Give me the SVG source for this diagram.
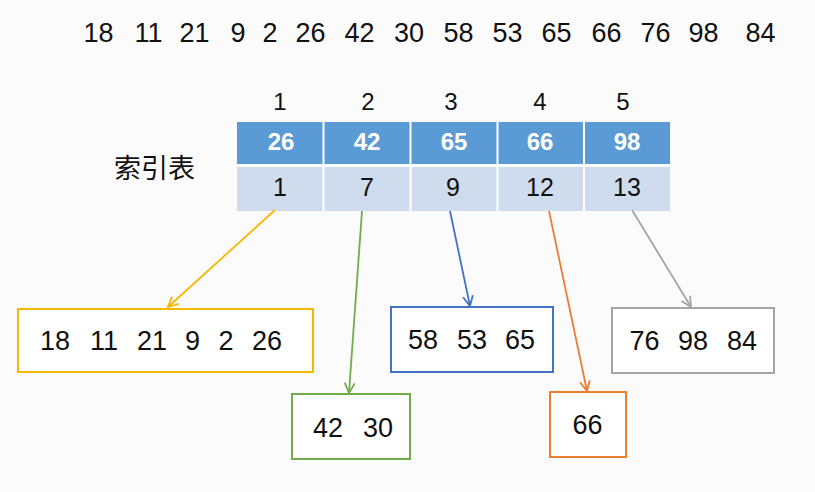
<svg xmlns="http://www.w3.org/2000/svg" width="815" height="492" viewBox="0 0 815 492">
<style>
text{font-family:"Liberation Sans","Noto Sans",sans-serif;fill:#111;text-anchor:middle}
.n{font-size:27px}
.idx{font-size:24px}
.hd{font-size:24px;font-weight:bold;fill:#fff}
.lo{font-size:25px}
.cjk{font-family:"Noto Sans CJK SC",sans-serif;font-size:27px;text-anchor:start}
.box{fill:#fff;stroke-width:2}
.arr{fill:none;stroke-width:1.8}
</style>
<defs>
<marker id="mY" viewBox="0 0 12 12" refX="11" refY="6" markerWidth="12" markerHeight="12" markerUnits="userSpaceOnUse" orient="auto"><path d="M1,1 L11,6 L1,11" fill="none" stroke="#f5b800" stroke-width="1.8"/></marker>
<marker id="mG" viewBox="0 0 12 12" refX="11" refY="6" markerWidth="12" markerHeight="12" markerUnits="userSpaceOnUse" orient="auto"><path d="M1,1 L11,6 L1,11" fill="none" stroke="#70ad47" stroke-width="1.8"/></marker>
<marker id="mB" viewBox="0 0 12 12" refX="11" refY="6" markerWidth="12" markerHeight="12" markerUnits="userSpaceOnUse" orient="auto"><path d="M1,1 L11,6 L1,11" fill="none" stroke="#4472c4" stroke-width="1.8"/></marker>
<marker id="mO" viewBox="0 0 12 12" refX="11" refY="6" markerWidth="12" markerHeight="12" markerUnits="userSpaceOnUse" orient="auto"><path d="M1,1 L11,6 L1,11" fill="none" stroke="#ed7d31" stroke-width="1.8"/></marker>
<marker id="mR" viewBox="0 0 12 12" refX="11" refY="6" markerWidth="12" markerHeight="12" markerUnits="userSpaceOnUse" orient="auto"><path d="M1,1 L11,6 L1,11" fill="none" stroke="#a5a5a5" stroke-width="1.8"/></marker>
</defs>
<rect x="0" y="0" width="815" height="492" fill="#fbfbfb"/>

<g id="sequence">
<text class="n" y="42"><tspan x="98.5">18</tspan><tspan x="148.5">11</tspan><tspan x="194.5">21</tspan><tspan x="238">9</tspan><tspan x="270">2</tspan><tspan x="310.5">26</tspan><tspan x="359.5">42</tspan><tspan x="409">30</tspan><tspan x="458.5">58</tspan><tspan x="507.5">53</tspan><tspan x="556.5">65</tspan><tspan x="606.5">66</tspan><tspan x="655.5">76</tspan><tspan x="703.5">98</tspan><tspan x="760.5">84</tspan></text>
</g>

<g id="index-table">
<text class="cjk" x="114" y="178">索引表</text>
<text class="idx" y="110"><tspan x="280">1</tspan><tspan x="368">2</tspan><tspan x="451">3</tspan><tspan x="540">4</tspan><tspan x="623">5</tspan></text>
<rect x="237" y="122" width="433" height="42" fill="#5b9bd5"/>
<rect x="237" y="167" width="433" height="44" fill="#cfdcee"/>
<g stroke="#fff" stroke-width="2">
<line x1="323.5" y1="122" x2="323.5" y2="211"/>
<line x1="410.5" y1="122" x2="410.5" y2="211"/>
<line x1="497.5" y1="122" x2="497.5" y2="211"/>
<line x1="584" y1="122" x2="584" y2="211"/>
</g>
<text class="hd" y="150"><tspan x="281">26</tspan><tspan x="367">42</tspan><tspan x="454">65</tspan><tspan x="540">66</tspan><tspan x="627">98</tspan></text>
<text class="lo" y="196"><tspan x="280">1</tspan><tspan x="367">7</tspan><tspan x="453">9</tspan><tspan x="540">12</tspan><tspan x="627">13</tspan></text>
</g>

<g id="connectors">
<line class="arr" x1="275" y1="210" x2="168" y2="307" stroke="#f5b800" marker-end="url(#mY)"/>
<line class="arr" x1="362" y1="211" x2="349" y2="393" stroke="#70ad47" marker-end="url(#mG)"/>
<line class="arr" x1="450" y1="211" x2="470" y2="306" stroke="#4472c4" marker-end="url(#mB)"/>
<line class="arr" x1="549" y1="211" x2="587" y2="391" stroke="#ed7d31" marker-end="url(#mO)"/>
<line class="arr" x1="632" y1="210" x2="691" y2="307" stroke="#a5a5a5" marker-end="url(#mR)"/>
</g>

<g id="block1">
<rect class="box" x="18" y="309" width="295" height="63" stroke="#f5b800"/>
<text class="n" y="350"><tspan x="55">18</tspan><tspan x="104">11</tspan><tspan x="152">21</tspan><tspan x="192.5">9</tspan><tspan x="226">2</tspan><tspan x="267">26</tspan></text>
</g>
<g id="block2">
<rect class="box" x="292" y="394" width="118" height="65" stroke="#70ad47"/>
<text class="n" y="437"><tspan x="328">42</tspan><tspan x="378">30</tspan></text>
</g>
<g id="block3">
<rect class="box" x="391" y="307" width="162" height="65" stroke="#4472c4"/>
<text class="n" y="349"><tspan x="423">58</tspan><tspan x="472">53</tspan><tspan x="520">65</tspan></text>
</g>
<g id="block4">
<rect class="box" x="550" y="392" width="76" height="65" stroke="#ed7d31"/>
<text class="n" y="434"><tspan x="587.5">66</tspan></text>
</g>
<g id="block5">
<rect class="box" x="612" y="308" width="162" height="65" stroke="#a5a5a5"/>
<text class="n" y="350"><tspan x="644.5">76</tspan><tspan x="693">98</tspan><tspan x="742">84</tspan></text>
</g>
</svg>
